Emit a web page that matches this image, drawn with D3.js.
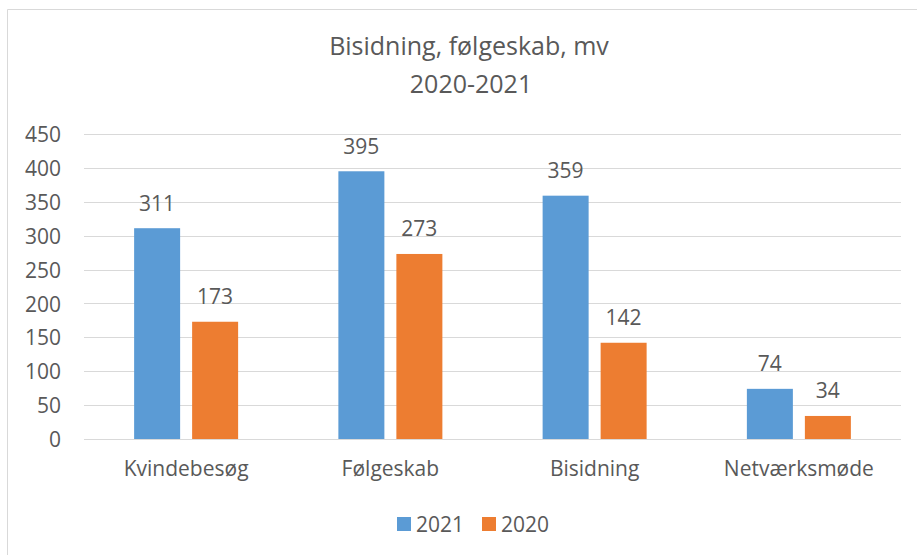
<!DOCTYPE html>
<html>
<head>
<meta charset="utf-8">
<script src="https://cdn.jsdelivr.net/npm/d3@7"></script>
<style>
  html, body { margin: 0; padding: 0; background: #fff; }
  svg { display: block; }
  text { font-family: "Open Sans", Lato, sans-serif; fill: #595959; }
</style>
</head>
<body>
<svg id="chart" width="917" height="555"></svg>
<script>
const categories = ["Kvindebesøg", "Følgeskab", "Bisidning", "Netværksmøde"];
const seriesNames = ["2021", "2020"];
const values2021 = [311, 395, 359, 74];
const values2020 = [173, 273, 142, 34];
const yTicks = [0, 50, 100, 150, 200, 250, 300, 350, 400, 450];
const titleLines = ["Bisidning, følgeskab, mv", "2020-2021"];
const colors = ["#5b9bd5", "#ed7d31"];

const seriesValues = [values2021, values2020];
const svg = d3.select("#chart");
const FONT = "'Open Sans', Lato, sans-serif";
const FS = "21px";

// chart frame (cropped on right/bottom)
svg.append("line").attr("x1", 7.5).attr("x2", 917).attr("y1", 9.5).attr("y2", 9.5)
  .attr("stroke", "#d9d9d9").attr("stroke-width", 1);
svg.append("line").attr("x1", 7.5).attr("x2", 7.5).attr("y1", 9.5).attr("y2", 555)
  .attr("stroke", "#d9d9d9").attr("stroke-width", 1);

const plot = { left: 84, right: 901, top: 134, bottom: 439 };

const x0 = d3.scaleBand().domain(categories).range([plot.left, plot.right]).paddingInner(0).paddingOuter(0);
const y = d3.scaleLinear().domain([0, 450]).range([plot.bottom, plot.top]);

const barW = 46, gap = 12;
const x1 = d3.scaleOrdinal().domain(seriesNames).range([-(gap / 2 + barW), gap / 2]);

// gridlines
svg.append("g").selectAll("line").data(yTicks).join("line")
  .attr("x1", plot.left).attr("x2", plot.right)
  .attr("y1", d => Math.round(y(d)) + 0.5).attr("y2", d => Math.round(y(d)) + 0.5)
  .attr("stroke", "#d9d9d9").attr("stroke-width", 1);

// y axis labels
const yAxis = d3.axisLeft(y).tickValues(yTicks).tickSize(0).tickPadding(0);
const yg = svg.append("g").attr("transform", `translate(61,0)`).call(yAxis);
yg.select(".domain").remove();
yg.selectAll("text").style("font-size", FS).attr("fill", "#595959")
  .style("font-family", FONT).attr("dy", "0.36em");

// bars
seriesNames.forEach((s, si) => {
  const g = svg.append("g");
  g.selectAll("rect").data(categories).join("rect")
    .attr("x", c => x0(c) + x0.bandwidth() / 2 + x1(s))
    .attr("width", barW)
    .attr("y", (c, i) => y(seriesValues[si][i]))
    .attr("height", (c, i) => y(0) - y(seriesValues[si][i]))
    .attr("fill", colors[si]);
  g.selectAll("text").data(categories).join("text")
    .attr("x", c => x0(c) + x0.bandwidth() / 2 + x1(s) + barW / 2)
    .attr("y", (c, i) => y(seriesValues[si][i]) - 17.5)
    .attr("text-anchor", "middle")
    .style("font-size", FS)
    .text((c, i) => seriesValues[si][i]);
});

// x axis labels
const xAxis = d3.axisBottom(x0).tickSize(0).tickPadding(0);
const xg = svg.append("g").attr("transform", `translate(0,461)`).call(xAxis);
xg.select(".domain").remove();
xg.selectAll("text").style("font-size", FS).attr("fill", "#595959")
  .style("font-family", FONT).attr("dy", "0.71em");

// title
svg.append("text").attr("x", 469).attr("y", 55).attr("text-anchor", "middle")
  .style("font-size", "25px").text(titleLines[0]);
svg.append("text").attr("x", 471).attr("y", 93).attr("text-anchor", "middle")
  .style("font-size", "25px").text(titleLines[1]);

// legend
const legendItems = [{ name: seriesNames[0], color: colors[0], x: 397 }, { name: seriesNames[1], color: colors[1], x: 482 }];
const lg = svg.append("g");
legendItems.forEach(it => {
  lg.append("rect").attr("x", it.x).attr("y", 517).attr("width", 14).attr("height", 14).attr("fill", it.color);
  lg.append("text").attr("x", it.x + 19).attr("y", 532).style("font-size", FS).text(it.name);
});
</script>
</body>
</html>
